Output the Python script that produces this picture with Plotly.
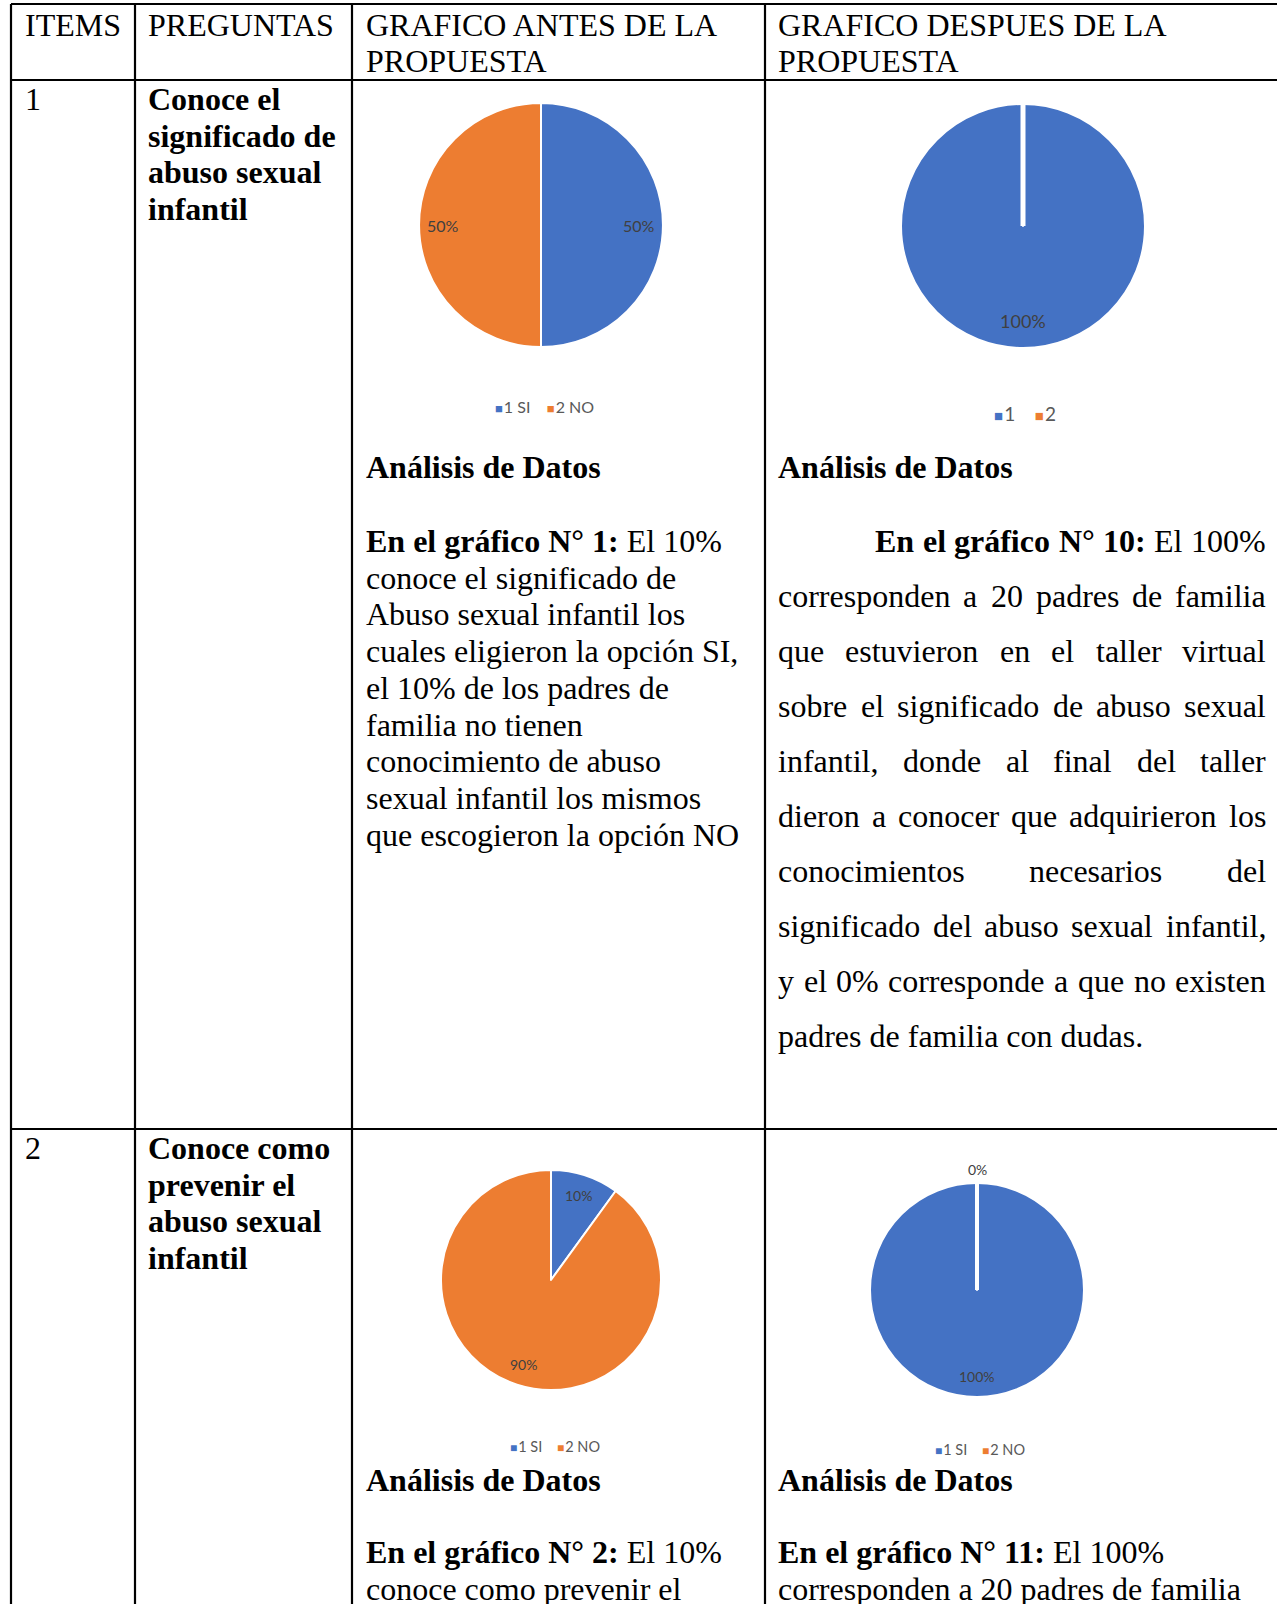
import math
import plotly.graph_objects as go

W, H = 1277, 1604
SERIF = "Liberation Serif, Times New Roman, serif"
SANS = "Lato, Open Sans, sans-serif"
BLUE, ORANGE = "#4472C4", "#ED7D31"
LABEL_GRAY = "#404040"
LEGEND_GRAY = "#595959"
BLACK = "#000000"

# ---------------- data ----------------
headers = [["ITEMS"], ["PREGUNTAS"],
           ["GRAFICO ANTES DE LA", "PROPUESTA"],
           ["GRAFICO DESPUES DE LA", "PROPUESTA"]]
items = ["1", "2"]
questions = [["Conoce el", "significado de", "abuso sexual", "infantil"],
             ["Conoce como", "prevenir el", "abuso sexual", "infantil"]]
before_labels = [["1 SI", "2 NO"], ["1 SI", "2 NO"]]
before_values = [[50, 50], [10, 90]]
after_labels = [["1", "2"], ["1 SI", "2 NO"]]
after_values = [[100, 0], [100, 0]]
analysis_title = "Análisis de Datos"
before_lead = ["En el gráfico N° 1:", "En el gráfico N° 2:"]
before_rest = [" El 10%", " El 10%"]
before_lines = [["conoce el significado de",
                 "Abuso sexual infantil los",
                 "cuales eligieron la opción SI,",
                 "el 10% de los padres de",
                 "familia no tienen",
                 "conocimiento de abuso",
                 "sexual infantil los mismos",
                 "que escogieron la opción NO"],
                ["conoce como prevenir el"]]
after_lead = ["En el gráfico N° 10:", "En el gráfico N° 11:"]
after_rest = [" El 100%", " El 100%"]
after_lines = [["corresponden a 20 padres de familia",
                "que estuvieron en el taller virtual",
                "sobre el significado de abuso sexual",
                "infantil, donde al final del taller",
                "dieron a conocer que adquirieron los",
                "conocimientos necesarios del",
                "significado del abuso sexual infantil,",
                "y el 0% corresponde a que no existen",
                "padres de familia con dudas."],
               ["corresponden a 20 padres de familia"]]

# ---------------- layout geometry (positions / styles) ----------------
COL_X = [11, 135, 352, 765]
ROW_Y = [4, 80, 1129]
TEXT_X = [23.5, 147, 365, 777]
FS = 32
LINE = 36.7
pie_geo = [  # before row1, after row1, before row2, after row2
    dict(cx=541, cy=225, r=122, lab=16, k=0.80, lx=544, ly=406, lfs=16, zero=False, gap=5),
    dict(cx=1023, cy=226, r=122, lab=18, k=0.78, lx=1025, ly=413, lfs=19, zero=False, gap=5),
    dict(cx=551, cy=1280, r=110, lab=14, k=0.81, lx=555, ly=1446, lfs=14.5, zero=True, gap=4),
    dict(cx=977, cy=1290, r=107, lab=14, k=0.81, lx=980, ly=1449, lfs=14.5, zero=True, gap=4),
]

# Times metrics (1/1000 em) for justified text
REG = {' ': 250, ',': 250, '.': 250, ':': 278, '%': 833, '°': 400}
for c in '0123456789':
    REG[c] = 500
REG.update(dict(zip('ABCDEFGHIJKLMNOPQRSTUVWXYZ',
                    [722, 667, 667, 722, 611, 556, 722, 722, 333, 389, 722, 611, 889, 722, 722, 556,
                     722, 667, 556, 611, 722, 722, 944, 722, 722, 611])))
REG.update(dict(zip('abcdefghijklmnopqrstuvwxyz',
                    [444, 500, 444, 500, 444, 333, 500, 500, 278, 278, 500, 278, 778, 500, 500, 500,
                     500, 333, 389, 278, 500, 500, 722, 500, 500, 444])))
REG.update({'á': 444, 'é': 444, 'í': 278, 'ó': 500, 'ú': 500})
BOLD = dict(REG)
BOLD.update({':': 333, '%': 1000, 'C': 722, 'E': 667, 'a': 500, 'b': 556, 'd': 556, 'h': 556,
             'm': 833, 'n': 556, 'p': 556, 'r': 444, 't': 333, 'u': 556, 'á': 500})


def tw(s, bold=False):
    m = BOLD if bold else REG
    return sum(m.get(ch, 500) for ch in s) * FS / 1000.0


annotations = []
shapes = []


def ann(x, y, text, size=FS, color=BLACK, family=SERIF, xanchor="left"):
    annotations.append(dict(x=x, y=y, xref="x", yref="y", text=text, showarrow=False,
                            xanchor=xanchor, yanchor="middle", borderpad=0,
                            font=dict(family=family, size=size, color=color)))


def justify(tokens, left, right, y):
    total = sum(tw(t, b) for t, b in tokens)
    gap = (right - left - total) / (len(tokens) - 1) if len(tokens) > 1 else 0
    x = left
    for t, b in tokens:
        txt = f"<b>{t}</b>" if b else t
        ann(x, y, txt)
        x += tw(t, b) + gap


# ---------------- table lines ----------------
LW = 2.2
for x in COL_X:
    shapes.append(dict(type="line", xref="x", yref="y", x0=x, x1=x, y0=ROW_Y[0], y1=H + 5,
                       line=dict(color=BLACK, width=LW)))
for y in ROW_Y:
    shapes.append(dict(type="line", xref="x", yref="y", x0=COL_X[0], x1=W + 5, y0=y, y1=y,
                       line=dict(color=BLACK, width=LW)))

# ---------------- header ----------------
for ci, lines in enumerate(headers):
    for li, t in enumerate(lines):
        ann(TEXT_X[ci], 24.5 + li * LINE, t)

# ---------------- rows: items and questions ----------------
for ri in range(2):
    top = ROW_Y[1 + ri]
    ann(TEXT_X[0], top + 19, items[ri])
    for li, t in enumerate(questions[ri]):
        ann(TEXT_X[1], top + 19 + li * LINE, f"<b>{t}</b>")

# ---------------- pies ----------------
fig = go.Figure()
pie_data = [(before_labels[0], before_values[0]), (after_labels[0], after_values[0]),
            (before_labels[1], before_values[1]), (after_labels[1], after_values[1])]
for (labs, vals), g in zip(pie_data, pie_geo):
    cx, cy, r = g["cx"], g["cy"], g["r"]
    fig.add_trace(go.Pie(
        labels=labs, values=vals, sort=False, direction="clockwise", rotation=0,
        marker=dict(colors=[BLUE, ORANGE], line=dict(color="white", width=2)),
        textinfo="none", hoverinfo="label+percent", showlegend=False,
        domain=dict(x=[(cx - r) / W, (cx + r) / W], y=[1 - (cy + r) / H, 1 - (cy - r) / H]),
    ))
    total = float(sum(vals))
    cum = 0.0
    for v in vals:
        a0 = cum / total * 2 * math.pi
        mid = (cum + v / 2.0) / total * 2 * math.pi
        pct = f"{round(v / total * 100)}%"
        if v > 0:
            ann(cx + g["k"] * r * math.sin(mid), cy - g["k"] * r * math.cos(mid), pct,
                size=g["lab"], color=LABEL_GRAY, family=SANS, xanchor="center")
        else:
            # zero-size slice: drawn as a white radial gap, label outside
            shapes.append(dict(type="line", xref="x", yref="y", x0=cx, y0=cy,
                               x1=cx + r * math.sin(a0), y1=cy - r * math.cos(a0),
                               line=dict(color="white", width=g["gap"])))
            if g["zero"]:
                ann(cx + (r + 14) * math.sin(a0), cy - (r + 14) * math.cos(a0), pct,
                    size=g["lab"], color=LABEL_GRAY, family=SANS, xanchor="center")
        cum += v
    ms = round(g["lfs"] * 0.8)
    parts = [f"<span style='color:{c};font-size:{ms}px'>■</span>&#8202;{lab}"
             for c, lab in zip([BLUE, ORANGE], labs)]
    ann(g["lx"], g["ly"], "&nbsp;&nbsp;&nbsp;&nbsp;".join(parts), size=g["lfs"],
        color=LEGEND_GRAY, family=SANS, xanchor="center")

# ---------------- analysis texts ----------------
title_y = [467, 1480]
first_y = [541, 1552]
for ri in range(2):
    # before column (left aligned, single spacing)
    ann(TEXT_X[2], title_y[ri], f"<b>{analysis_title}</b>")
    ann(TEXT_X[2], first_y[ri], f"<b>{before_lead[ri]}</b>{before_rest[ri]}")
    for li, t in enumerate(before_lines[ri]):
        ann(TEXT_X[2], first_y[ri] + (li + 1) * LINE, t)
    # after column
    ann(TEXT_X[3], title_y[ri], f"<b>{analysis_title}</b>")

# row 1 after column: justified, 1.5 spacing, first-line indent
RIGHT = 1265
SP = 55.0
lead_tokens = [(w, True) for w in after_lead[0].split(" ")] + \
              [(w, False) for w in after_rest[0].strip().split(" ")]
justify(lead_tokens, 874, RIGHT, first_y[0])
for li, t in enumerate(after_lines[0]):
    y = first_y[0] + (li + 1) * SP
    if li == len(after_lines[0]) - 1:
        ann(TEXT_X[3], y, t)
    else:
        justify([(w, False) for w in t.split(" ")], TEXT_X[3], RIGHT, y)

# row 2 after column: left aligned single spacing
ann(TEXT_X[3], first_y[1], f"<b>{after_lead[1]}</b>{after_rest[1]}")
for li, t in enumerate(after_lines[1]):
    ann(TEXT_X[3], first_y[1] + (li + 1) * LINE, t)

fig.update_layout(
    width=W, height=H, margin=dict(l=0, r=0, t=0, b=0),
    paper_bgcolor="white", plot_bgcolor="white",
    xaxis=dict(range=[0, W], visible=False, fixedrange=True),
    yaxis=dict(range=[H, 0], visible=False, fixedrange=True),
    annotations=annotations, shapes=shapes, showlegend=False,
)
fig.write_html(
    "out.html",
    config={"displayModeBar": False},
    post_script="document.body.style.margin='0';document.documentElement.style.overflow='hidden';",
)
